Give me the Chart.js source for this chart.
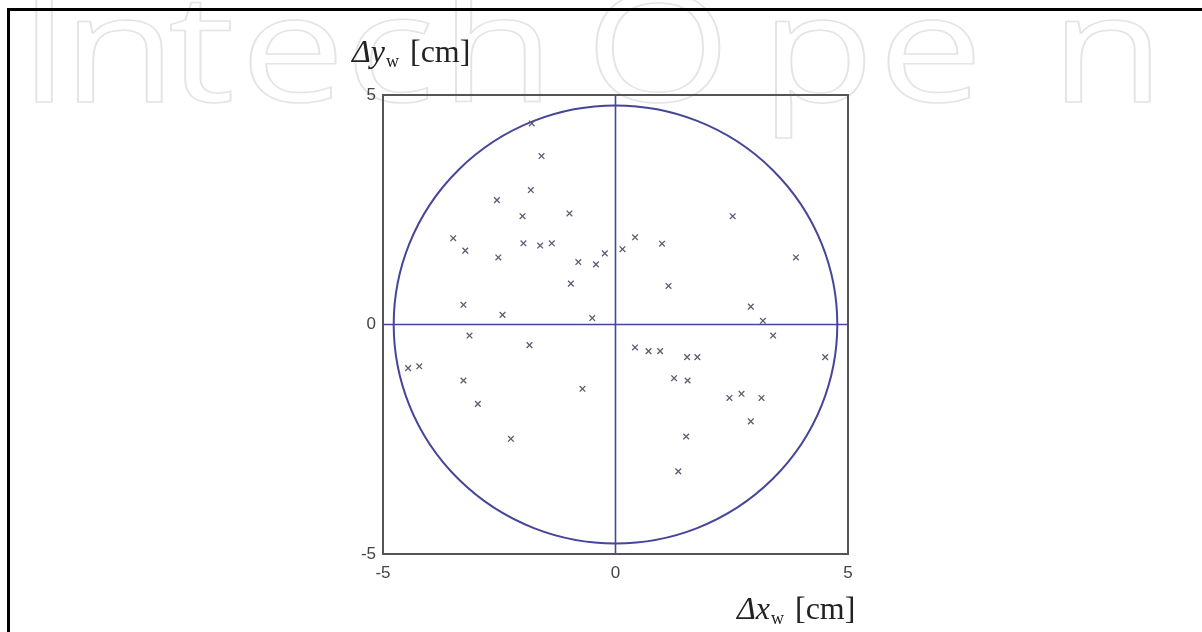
<!DOCTYPE html>
<html><head><meta charset="utf-8">
<script src="https://cdn.jsdelivr.net/npm/chart.js@4.4.1/dist/chart.umd.min.js"></script>
<style>html,body{margin:0;padding:0;background:#fff;}canvas{display:block;}</style>
</head><body>
<canvas id="c" width="1202" height="632"></canvas>
<script>
// ---- data ----
const xTickValues = [-5, 0, 5];
const yTickValues = [-5, 0, 5];
const pointsX = [-1.80,-1.59,-1.82,-2.55,-2.00,-0.99,-3.49,-3.23,-1.98,-1.62,-1.37,-2.52,-0.80,-0.42,-0.23,-0.96,-3.27,-2.43,-0.50,
                 0.15,0.42,1.00,2.52,3.88,1.14,2.91,3.17,
                 -3.14,-1.85,-4.46,-4.22,-3.27,-0.71,-2.96,-2.25,
                 3.39,4.51,0.42,0.71,0.96,1.54,1.76,1.26,1.55,2.45,2.71,3.14,2.91,1.52,1.35];
const pointsY = [4.38,3.67,2.93,2.71,2.36,2.42,1.88,1.61,1.77,1.72,1.77,1.46,1.36,1.31,1.55,0.89,0.43,0.21,0.14,
                 1.64,1.90,1.76,2.36,1.46,0.84,0.39,0.08,
                 -0.24,-0.45,-0.95,-0.91,-1.22,-1.40,-1.73,-2.49,
                 -0.24,-0.71,-0.50,-0.58,-0.58,-0.71,-0.71,-1.17,-1.22,-1.60,-1.51,-1.60,-2.11,-2.44,-3.20];
const circleRadius = 4.77;
const axisRange = [-5, 5];
const watermarkLetters = ['I','n','t','e','c','h','O','p','e','n'];

// ---- styles ----
const BLUE = '#45459a';
const MARK = '#5c5c72';

const scatterData = pointsX.map((x, i) => ({x: x, y: pointsY[i]}));

const decor = {
  id: 'decor',
  beforeDraw(chart) {
    const ctx = chart.ctx;
    ctx.save();
    ctx.fillStyle = '#fff';
    ctx.fillRect(0, 0, chart.width, chart.height);
    // watermark
    const wmX = [18, 62, 168, 240, 345, 440, 585, 760, 878, 1050];
    ctx.font = '150px "Open Sans"';
    ctx.strokeStyle = '#e4e4e4';
    ctx.lineWidth = 1.5;
    ctx.textBaseline = 'alphabetic';
    watermarkLetters.forEach((ch, i) => {
      ctx.save();
      ctx.translate(wmX[i], 102);
      ctx.scale(1.25, 1);
      ctx.strokeText(ch, 0, 0);
      ctx.restore();
    });
    // outer border (top & left)
    ctx.fillStyle = '#000';
    ctx.fillRect(7, 8, chart.width - 7, 3);
    ctx.fillRect(7, 8, 3, chart.height - 8);
    ctx.restore();
  },
  beforeDatasetsDraw(chart) {
    const ctx = chart.ctx;
    const xs = chart.scales.x, ys = chart.scales.y;
    const cx = xs.getPixelForValue(0), cy = ys.getPixelForValue(0);
    const rx = xs.getPixelForValue(circleRadius) - cx;
    const ry = cy - ys.getPixelForValue(circleRadius);
    ctx.save();
    ctx.strokeStyle = BLUE;
    ctx.lineWidth = 2;
    ctx.beginPath();
    ctx.ellipse(cx, cy, rx, ry, 0, 0, Math.PI * 2);
    ctx.stroke();
    ctx.restore();
  },
  afterDraw(chart) {
    const ctx = chart.ctx;
    const a = chart.chartArea;
    ctx.save();
    ctx.strokeStyle = '#555';
    ctx.lineWidth = 2;
    ctx.strokeRect(a.left, a.top, a.right - a.left, a.bottom - a.top);
    // axis titles
    const drawTitle = (x, y, sym) => {
      ctx.fillStyle = '#222';
      ctx.textBaseline = 'alphabetic';
      ctx.textAlign = 'left';
      ctx.font = 'italic 32px "Liberation Serif"';
      ctx.fillText('\u0394' + sym, x, y);
      let w = ctx.measureText('\u0394' + sym).width;
      ctx.font = '18px "Liberation Serif"';
      ctx.fillText('w', x + w + 1, y + 5);
      w += ctx.measureText('w').width + 4;
      ctx.font = '32px "Liberation Serif"';
      ctx.fillText(' [cm]', x + w, y);
    };
    drawTitle(352, 62, 'y');
    drawTitle(737, 619, 'x');
    ctx.restore();
  }
};

const tickFont = {family: '"Liberation Sans", Arial, sans-serif', size: 17};

new Chart(document.getElementById('c'), {
  type: 'scatter',
  data: {
    datasets: [
      {
        type: 'line',
        data: [{x: axisRange[0], y: 0}, {x: axisRange[1], y: 0}],
        borderColor: BLUE, borderWidth: 1.6, pointRadius: 0, fill: false, order: 2
      },
      {
        type: 'line',
        data: [{x: 0, y: axisRange[0]}, {x: 0, y: axisRange[1]}],
        borderColor: BLUE, borderWidth: 1.6, pointRadius: 0, fill: false, order: 2
      },
      {
        data: scatterData,
        pointStyle: 'crossRot',
        pointRadius: 4,
        borderColor: MARK,
        borderWidth: 1.3,
        backgroundColor: MARK,
        order: 1
      }
    ]
  },
  options: {
    responsive: false,
    animation: false,
    events: [],
    layout: {padding: {left: 0, right: 354, top: 95, bottom: 0}},
    plugins: {legend: {display: false}, tooltip: {enabled: false}, title: {display: false}},
    scales: {
      x: {
        type: 'linear', min: axisRange[0], max: axisRange[1],
        afterBuildTicks: s => { s.ticks = xTickValues.map(v => ({value: v})); },
        ticks: {color: '#444', font: tickFont, padding: 9, maxRotation: 0, autoSkip: false},
        grid: {display: false, drawTicks: false},
        border: {display: false},
        afterFit: s => { s.height = 78; }
      },
      y: {
        type: 'linear', min: axisRange[0], max: axisRange[1],
        afterBuildTicks: s => { s.ticks = yTickValues.map(v => ({value: v})); },
        ticks: {color: '#444', font: tickFont, padding: 7, autoSkip: false},
        grid: {display: false, drawTicks: false},
        border: {display: false},
        afterFit: s => { s.width = 383; }
      }
    }
  },
  plugins: [decor]
});
</script>
</body></html>
